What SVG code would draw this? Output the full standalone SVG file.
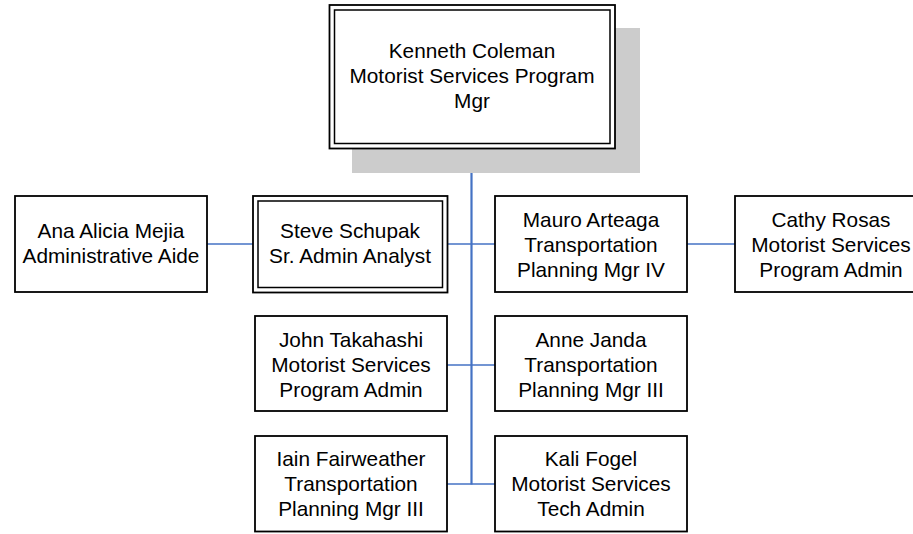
<svg xmlns="http://www.w3.org/2000/svg" width="913" height="534" viewBox="0 0 913 534">
<style>
.box{fill:#ffffff;stroke:#000000;stroke-width:1.8}
.dbl{fill:none;stroke:#000000;stroke-width:1.5}
.t{font-family:"Liberation Sans",Arial,sans-serif;font-size:20.8px;fill:#000000;text-anchor:middle}
.c{stroke:#4472C4;fill:none}
</style>
<rect width="913" height="534" fill="#ffffff"/>
<g id="connectors">
<line class="c" x1="471.5" y1="148" x2="471.5" y2="484.5" stroke-width="2.2"/>
<line class="c" x1="207" y1="244" x2="253" y2="244" stroke-width="1.5"/>
<line class="c" x1="447.5" y1="244" x2="495" y2="244" stroke-width="1.5"/>
<line class="c" x1="687" y1="244" x2="735" y2="244" stroke-width="1.5"/>
<line class="c" x1="447" y1="365" x2="495" y2="365" stroke-width="1.5"/>
<line class="c" x1="447" y1="484" x2="495" y2="484" stroke-width="1.5"/>
</g>
<g id="kenneth">
<rect x="352" y="28" width="288" height="145" fill="#cccccc"/>
<rect class="box" x="329.5" y="5" width="285.5" height="143.5"/>
<rect class="dbl" x="334.5" y="10" width="275.5" height="133.5"/>
<text class="t" x="472" y="58">Kenneth Coleman</text>
<text class="t" x="472" y="83">Motorist Services Program</text>
<text class="t" x="472" y="108">Mgr</text>
</g>
<g id="ana">
<rect class="box" x="15" y="196" width="192" height="96"/>
<text class="t" x="111" y="238">Ana Alicia Mejia</text>
<text class="t" x="111" y="263">Administrative Aide</text>
</g>
<g id="steve">
<rect class="box" x="253" y="196" width="194.5" height="96.5"/>
<rect class="dbl" x="258" y="201" width="184.5" height="86.5"/>
<text class="t" x="350" y="238">Steve Schupak</text>
<text class="t" x="350" y="263">Sr. Admin Analyst</text>
</g>
<g id="mauro">
<rect class="box" x="495" y="196" width="192" height="96"/>
<text class="t" x="591" y="227">Mauro Arteaga</text>
<text class="t" x="591" y="252">Transportation</text>
<text class="t" x="591" y="277">Planning Mgr IV</text>
</g>
<g id="cathy">
<rect class="box" x="735" y="196" width="192" height="96"/>
<text class="t" x="831" y="227">Cathy Rosas</text>
<text class="t" x="831" y="252">Motorist Services</text>
<text class="t" x="831" y="277">Program Admin</text>
</g>
<g id="john">
<rect class="box" x="255" y="316" width="192" height="95"/>
<text class="t" x="351" y="346.5">John Takahashi</text>
<text class="t" x="351" y="371.5">Motorist Services</text>
<text class="t" x="351" y="396.5">Program Admin</text>
</g>
<g id="anne">
<rect class="box" x="495" y="316" width="192" height="95"/>
<text class="t" x="591" y="346.5">Anne Janda</text>
<text class="t" x="591" y="371.5">Transportation</text>
<text class="t" x="591" y="396.5">Planning Mgr III</text>
</g>
<g id="iain">
<rect class="box" x="255" y="436" width="192" height="95.5"/>
<text class="t" x="351" y="466">Iain Fairweather</text>
<text class="t" x="351" y="491">Transportation</text>
<text class="t" x="351" y="516">Planning Mgr III</text>
</g>
<g id="kali">
<rect class="box" x="495" y="436" width="192" height="95.5"/>
<text class="t" x="591" y="466">Kali Fogel</text>
<text class="t" x="591" y="491">Motorist Services</text>
<text class="t" x="591" y="516">Tech Admin</text>
</g>
</svg>
